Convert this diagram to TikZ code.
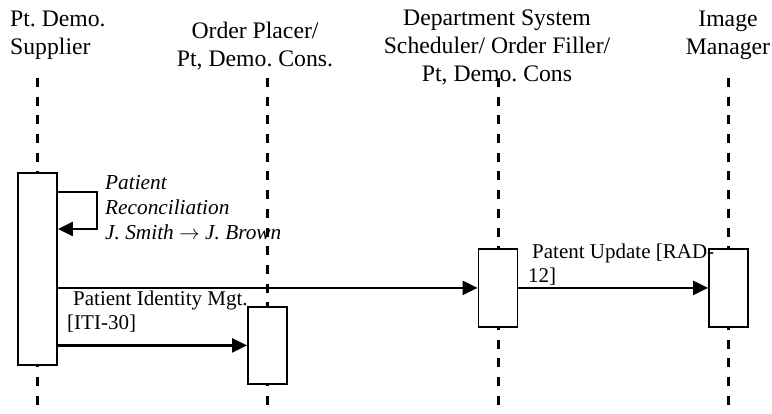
\documentclass[tikz,border=0pt]{standalone}
\usepackage{fontspec}
\setmainfont{Liberation Serif}
\usetikzlibrary{arrows.meta}
\frenchspacing
\begin{document}
\begin{tikzpicture}[x=1pt,y=-1pt,
  life/.style={line width=3pt, dash pattern=on 9pt off 9.7pt},
  act/.style={draw, line width=1.8pt, fill=white, minimum width=39pt, inner sep=0pt, anchor=north},
  msg/.style={line width=2.3pt, -{Triangle[length=15pt,width=14pt]}},
  hdr/.style={font=\fontsize{23.7}{28}\selectfont, inner sep=0pt, anchor=base},
  lbl/.style={font=\fontsize{21}{24.5}\selectfont, align=left, inner sep=0pt, anchor=base west}]
\useasboundingbox (0,0) rectangle (772,414);
% lifelines
\coordinate (l1t) at (37.5,78);  \coordinate (l1b) at (37.5,414);
\coordinate (l2t) at (267.5,78); \coordinate (l2b) at (267.5,414);
\coordinate (l3t) at (498,78);   \coordinate (l3b) at (498,414);
\coordinate (l4t) at (728.5,78); \coordinate (l4b) at (728.5,414);
\draw[life] (l1t) -- (l1b);
\draw[life] (l2t) -- (l2b);
\draw[life] (l3t) -- (l3b);
\draw[life] (l4t) -- (l4b);
% headers (anchor base = baseline of last line)
\node[hdr, align=left, anchor=base west] (hsup) at (10,55) {Pt. Demo.\\Supplier};
\node[hdr, align=center] (hop) at (255,67) {Order Placer/\\Pt, Demo. Cons.};
\node[hdr, align=center] (hdept) at (497,82) {Department System\\Scheduler/ Order Filler/\\Pt, Demo. Cons};
\node[hdr, align=center] (him) at (728,55) {Image\\Manager};
% activation boxes
\node[act, minimum height=192pt] (s) at (37.5,172) {};
\node[act, minimum height=77pt] (op) at (267.5,306) {};
\node[act, minimum height=78pt] (d) at (498,248) {};
\node[act, minimum height=78pt] (im) at (728.5,248) {};
% messages
\draw[msg] ([yshift=-20pt]s.north east) -- ++(39,0) -- ++(0,37) -- ([yshift=-57pt]s.north east);
\draw[msg] (s.east |- d.west) -- (d.west);
\draw[msg] (d.east) -- (im.west);
\draw[msg] (s.east |- op.west) -- (op.west);
% labels (anchor base = baseline of last line)
\node[lbl, font=\fontsize{21.3}{25}\selectfont\itshape] (lrec) at (105,240) {Patient\\Reconciliation\\J. Smith $\rightarrow$ J. Brown};
\node[lbl] (lpim) at (67,330) {\hspace*{6pt}Patient Identity Mgt.\\{[ITI-30]}};
\node[lbl] (lpu) at (528,283) {\hspace*{4pt}Patent Update [RAD-\\12]};
\end{tikzpicture}
\end{document}
